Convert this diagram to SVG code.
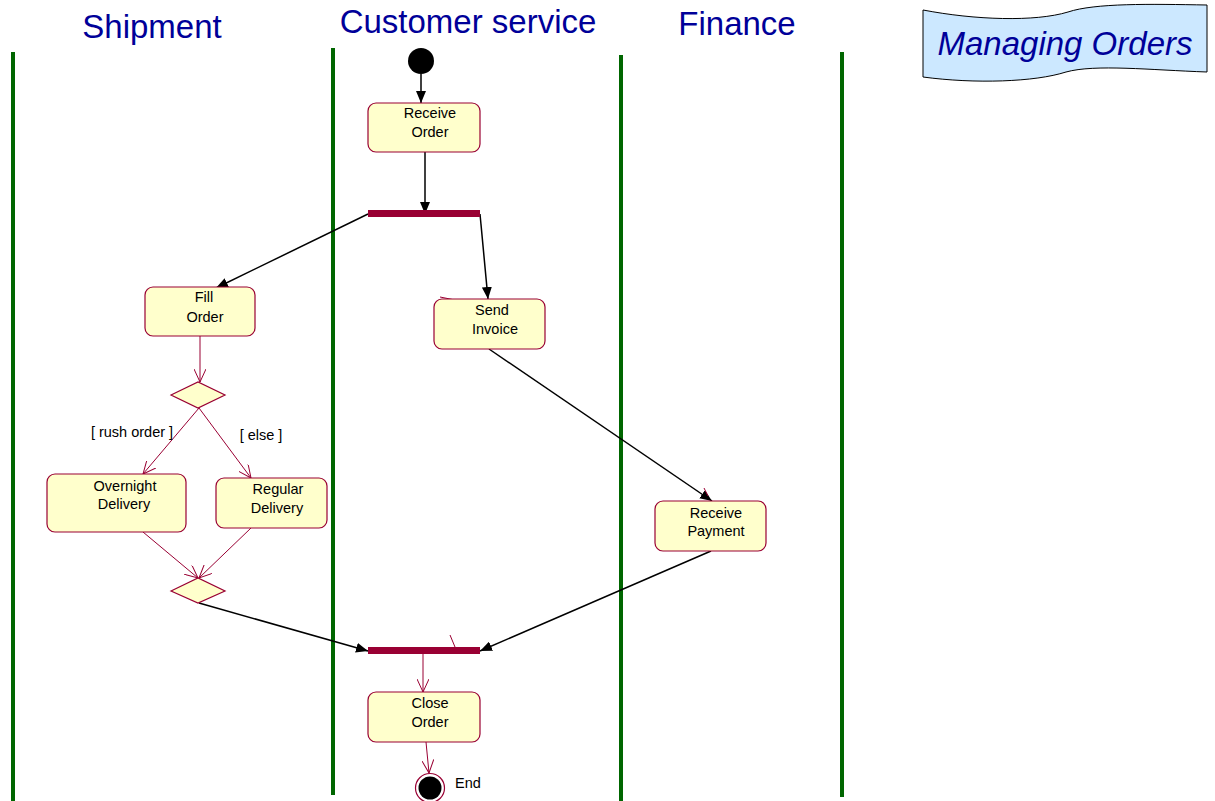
<svg xmlns="http://www.w3.org/2000/svg" width="1215" height="801" viewBox="0 0 1215 801">
<defs>
<marker id="fill" viewBox="0 0 12 10" refX="12" refY="5" markerWidth="12" markerHeight="10" markerUnits="userSpaceOnUse" orient="auto"><path d="M0,0 L12,5 L0,10 Z" fill="#000"/></marker>
<marker id="open" viewBox="0 0 14 12" refX="13" refY="6" markerWidth="14" markerHeight="12" markerUnits="userSpaceOnUse" orient="auto"><path d="M0,0 L13,6 L0,12" fill="none" stroke="#990033" stroke-width="1"/></marker>
</defs>
<style>
.lane{stroke:#006600;stroke-width:4;fill:none}
.title{font-family:"Liberation Sans",Arial,sans-serif;font-size:33px;fill:#000099;text-anchor:middle}
.act{fill:#FFFFCC;stroke:#990033;stroke-width:1.2}
.lbl{font-family:"Liberation Sans",Arial,sans-serif;font-size:14.5px;fill:#000;text-anchor:middle}
.bar{fill:#990033}
.blk{stroke:#000;stroke-width:1.5;fill:none;marker-end:url(#fill)}
.red{stroke:#990033;stroke-width:1;fill:none;marker-end:url(#open)}
</style>
<rect width="1215" height="801" fill="#fff"/>
<g id="lanes">
<line class="lane" x1="13" y1="52" x2="13" y2="801"/>
<line class="lane" x1="333" y1="48" x2="333" y2="795"/>
<line class="lane" x1="621" y1="55" x2="621" y2="801"/>
<line class="lane" x1="842" y1="52" x2="842" y2="797"/>
<text class="title" x="152" y="38">Shipment</text>
<text class="title" x="468" y="33">Customer service</text>
<text class="title" x="737" y="35">Finance</text>
</g>
<g id="banner">
<path d="M923,10 C975,20 1035,22 1068,12 C1095,3 1150,4 1207,5 L1207,72 C1150,70 1095,64 1066,72 C1035,82 975,84 923,77 Z" fill="#CCE8FF" stroke="#000" stroke-width="1"/>
<text x="1065" y="55" font-family="Liberation Sans, Arial, sans-serif" font-size="33" font-style="italic" fill="#000099" text-anchor="middle">Managing Orders</text>
</g>
<g id="connectors">
<line class="blk" x1="421" y1="74" x2="421" y2="103"/>
<line class="blk" x1="425" y1="152" x2="425" y2="214"/>
<line class="blk" x1="368" y1="214" x2="216" y2="288"/>
<line class="blk" x1="480" y1="214" x2="488" y2="299"/>
<line class="red" x1="200" y1="336" x2="200" y2="382"/>
<line class="red" x1="199" y1="408" x2="143" y2="474"/>
<line class="red" x1="199" y1="408" x2="251" y2="478"/>
<line class="red" x1="143" y1="532" x2="198" y2="578"/>
<line class="red" x1="251" y1="528" x2="199" y2="578"/>
<line class="blk" x1="199" y1="603" x2="368" y2="651"/>
<line class="blk" x1="489" y1="349" x2="712" y2="501"/>
<line class="blk" x1="711" y1="551" x2="480" y2="651"/>
<line class="red" x1="423" y1="654" x2="423" y2="692"/>
<line class="red" x1="426" y1="742" x2="429" y2="773"/>
<line x1="440" y1="297" x2="455" y2="300" stroke="#990033" stroke-width="1"/>
<line x1="704" y1="488" x2="708" y2="496" stroke="#990033" stroke-width="1"/>
<line x1="450" y1="635" x2="455" y2="647" stroke="#990033" stroke-width="1"/>
</g>
<g id="start"><circle cx="421" cy="61" r="13" fill="#000"/></g>
<g id="receive-order"><rect class="act" x="368" y="103" width="112" height="49" rx="8"/><text class="lbl" x="430" y="118">Receive</text><text class="lbl" x="430" y="137">Order</text></g>
<g id="fork"><rect class="bar" x="368" y="210" width="112" height="7"/></g>
<g id="fill-order"><rect class="act" x="145" y="287" width="110" height="49" rx="8"/><text class="lbl" x="204" y="302">Fill</text><text class="lbl" x="205" y="322">Order</text></g>
<g id="send-invoice"><rect class="act" x="434" y="299" width="111" height="50" rx="8"/><text class="lbl" x="492" y="315">Send</text><text class="lbl" x="495" y="334">Invoice</text></g>
<g id="decision"><path class="act" d="M171,395 L198,382 L225,395 L198,408 Z"/></g>
<g id="guard-rush"><text class="lbl" x="132" y="437">[ rush order ]</text></g>
<g id="guard-else"><text class="lbl" x="261" y="440">[ else ]</text></g>
<g id="overnight"><rect class="act" x="47" y="474" width="139" height="58" rx="8"/><text class="lbl" x="125" y="491">Overnight</text><text class="lbl" x="124" y="509">Delivery</text></g>
<g id="regular"><rect class="act" x="216" y="478" width="111" height="50" rx="8"/><text class="lbl" x="278" y="494">Regular</text><text class="lbl" x="277" y="513">Delivery</text></g>
<g id="merge"><path class="act" d="M171,591 L198,578 L225,591 L198,603 Z"/></g>
<g id="receive-payment"><rect class="act" x="655" y="501" width="111" height="50" rx="8"/><text class="lbl" x="716" y="518">Receive</text><text class="lbl" x="716" y="536">Payment</text></g>
<g id="join"><rect class="bar" x="368" y="647" width="112" height="7"/></g>
<g id="close-order"><rect class="act" x="368" y="692" width="112" height="50" rx="8"/><text class="lbl" x="430" y="708">Close</text><text class="lbl" x="430" y="727">Order</text></g>
<g id="end"><circle cx="430" cy="788" r="14.5" fill="#fff" stroke="#990033" stroke-width="1.2"/><circle cx="430" cy="788" r="11.5" fill="#000"/><text x="455" y="788" font-family="Liberation Sans, Arial, sans-serif" font-size="14.5" fill="#000">End</text></g>
</svg>
